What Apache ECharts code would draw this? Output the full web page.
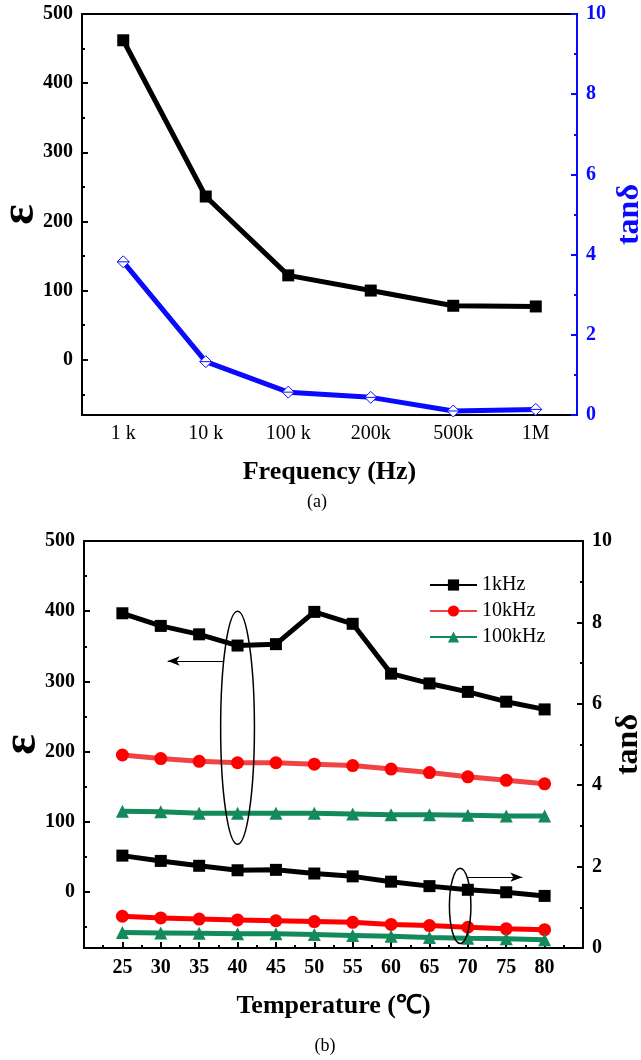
<!DOCTYPE html>
<html>
<head>
<meta charset="utf-8">
<script src="https://cdn.jsdelivr.net/npm/echarts@6/dist/echarts.min.js"></script>
<style>
  html, body { margin: 0; padding: 0; background: #fff; }
  #chart { width: 641px; height: 1060px; }
</style>
</head>
<body>
<div id="chart"></div>
<script>
// (a) frequency dependence
const freqLabels = ['1 k', '10 k', '100 k', '200k', '500k', '1M']
const epsFreq = [462, 236, 122, 100, 78, 77]
const tanFreq = [3.82, 1.33, 0.57, 0.44, 0.10, 0.14]

// (b) temperature dependence
const temps = [25, 30, 35, 40, 45, 50, 55, 60, 65, 70, 75, 80]
const eps1k = [397, 379, 367, 351, 353, 399, 382, 311, 297, 285, 271, 260]
const eps10k = [195, 190, 186, 184, 184, 182, 180, 175, 170, 164, 159, 154]
const eps100k = [115, 114, 112, 112, 112, 112, 111, 110, 110, 109, 108, 108]
const tan1k = [2.27, 2.14, 2.02, 1.91, 1.92, 1.83, 1.76, 1.63, 1.52, 1.43, 1.37, 1.28]
const tan10k = [0.78, 0.74, 0.71, 0.69, 0.67, 0.65, 0.63, 0.58, 0.55, 0.51, 0.47, 0.45]
const tan100k = [0.38, 0.37, 0.36, 0.35, 0.35, 0.33, 0.31, 0.29, 0.26, 0.24, 0.23, 0.20]
const legendNames = ['1kHz', '10kHz', '100kHz']

// tick labels
const epsTicks = [0, 100, 200, 300, 400, 500]
const epsMinorTicks = [-50, 50, 150, 250, 350, 450]

// annotations in data units: [x centre, x half-width, y top, y bottom]
const ovalEps = [40, 2.2, 400, 68]
const ovalTan = [69, 1.4, 1.96, 0.11]
const arrowEps = [[38.1, 329], [30.9, 329]]
const arrowTan = [[69.9, 1.74], [77.1, 1.74]]

const FONT = '"Liberation Serif", "Times New Roman", serif'
const BLUE = '#0a0aff'
const RED = '#f04444'
const GREEN = '#138a5c'

const chart = echarts.init(document.getElementById('chart'))

const labelStyle = (color, bold) => ({
  fontFamily: FONT, fontSize: 20, color, fontWeight: bold ? 'bold' : 'normal'
})

const nameStyle = (color, size) => ({
  fontFamily: FONT, fontSize: size, color, fontWeight: 'bold'
})

const leftAxis = (gridIndex) => ({
  gridIndex, type: 'value', min: -80, max: 500, position: 'left',
  name: 'ε', nameLocation: 'middle', nameGap: 37, nameRotate: 90, nameMoveOverlap: false,
  nameTextStyle: nameStyle('#000', 48),
  axisLine: { show: true, onZero: false, lineStyle: { color: '#000', width: 2 } },
  axisTick: { show: true, inside: true, length: 6, customValues: epsTicks, lineStyle: { width: 2 } },
  axisLabel: { ...labelStyle('#000', true), customValues: epsTicks, margin: 9 },
  splitLine: { show: false }
})

const leftMinor = (gridIndex) => ({
  gridIndex, type: 'value', min: -80, max: 500, position: 'left',
  axisLine: { show: false },
  axisTick: { show: true, inside: true, length: 3, customValues: epsMinorTicks, lineStyle: { color: '#000', width: 2 } },
  axisLabel: { show: false },
  splitLine: { show: false }
})

const rightAxis = (gridIndex, color, gap) => ({
  gridIndex, type: 'value', min: 0, max: 10, interval: 2, position: 'right',
  name: 'tanδ', nameLocation: 'middle', nameGap: gap, nameRotate: 90, nameMoveOverlap: false,
  nameTextStyle: nameStyle(color, 32),
  axisLine: { show: true, onZero: false, lineStyle: { color, width: 2 } },
  axisTick: { show: true, inside: true, length: 6, lineStyle: { color, width: 2 } },
  minorTick: { show: true, splitNumber: 2, length: 3, lineStyle: { color, width: 2 } },
  axisLabel: { ...labelStyle(color, true), margin: 9 },
  splitLine: { show: false }, minorSplitLine: { show: false }
})

const pairs = (ys) => temps.map((t, i) => [t, ys[i]])

const tempSeries = (name, ys, yAxisIndex, symbol, size, color, lineColor) => ({
  name, type: 'line', xAxisIndex: 2, yAxisIndex, data: pairs(ys),
  symbol, symbolSize: size,
  lineStyle: { color: lineColor || color, width: 5 },
  itemStyle: { color }
})

const arrowLine = (pts) => ({
  silent: true,
  symbol: ['none', 'arrow'],
  symbolSize: [7, 12],
  label: { show: false },
  lineStyle: { color: '#000', width: 1.2, type: 'solid' },
  emphasis: { disabled: true },
  data: [[{ coord: pts[0] }, { coord: pts[1] }]]
})

const s1k = tempSeries('1kHz', eps1k, 3, 'rect', 12, '#000')
s1k.markLine = arrowLine(arrowEps)
const t1k = tempSeries('1kHz', tan1k, 4, 'rect', 12, '#000')
t1k.markLine = arrowLine(arrowTan)

chart.setOption({
  animation: false,
  grid: [
    { left: 82, top: 14, width: 495, height: 401, outerBoundsMode: 'none' },
    { left: 84, top: 541, width: 499, height: 407, outerBoundsMode: 'none' }
  ],
  legend: {
    data: legendNames,
    orient: 'vertical',
    left: 424, top: 570,
    itemWidth: 47, itemHeight: 14, itemGap: 6,
    textStyle: { fontFamily: FONT, fontSize: 20, color: '#000' },
    selectedMode: false
  },
  xAxis: [
    {
      gridIndex: 0, type: 'category', data: freqLabels, position: 'bottom',
      name: 'Frequency (Hz)', nameLocation: 'middle', nameGap: 44, nameMoveOverlap: false,
      nameTextStyle: nameStyle('#000', 26),
      axisLine: { onZero: false, lineStyle: { color: '#000', width: 2 } },
      axisTick: { inside: true, alignWithLabel: true, length: 6, lineStyle: { width: 2 } },
      axisLabel: { ...labelStyle('#000', false), margin: 9 }
    },
    {
      gridIndex: 0, type: 'category', data: freqLabels, position: 'top',
      axisLine: { onZero: false, lineStyle: { color: '#000', width: 2 } },
      axisTick: { show: false }, axisLabel: { show: false }
    },
    {
      gridIndex: 1, type: 'value', min: 20, max: 85, interval: 5, position: 'bottom',
      name: 'Temperature (℃)', nameLocation: 'middle', nameGap: 45, nameMoveOverlap: false,
      nameTextStyle: nameStyle('#000', 26),
      axisLine: { onZero: false, lineStyle: { color: '#000', width: 2 } },
      axisTick: { inside: true, length: 6, lineStyle: { width: 2 } },
      minorTick: { show: true, splitNumber: 2, length: 3, lineStyle: { color: '#000', width: 2 } },
      axisLabel: {
        ...labelStyle('#000', true), margin: 10,
        formatter: (v) => (v === 20 || v === 85 ? '' : String(v))
      },
      splitLine: { show: false }, minorSplitLine: { show: false }
    },
    {
      gridIndex: 1, type: 'value', min: 20, max: 85, position: 'top',
      axisLine: { onZero: false, lineStyle: { color: '#000', width: 2 } },
      axisTick: { show: false }, axisLabel: { show: false }, splitLine: { show: false }
    }
  ],
  yAxis: [
    leftAxis(0),
    rightAxis(0, BLUE, 37),
    leftMinor(0),
    leftAxis(1),
    rightAxis(1, '#000', 30),
    leftMinor(1)
  ],
  series: [
    {
      type: 'line', xAxisIndex: 0, yAxisIndex: 0, data: epsFreq,
      symbol: 'rect', symbolSize: 12,
      lineStyle: { color: '#000', width: 5 },
      itemStyle: { color: '#000' }
    },
    {
      type: 'line', xAxisIndex: 0, yAxisIndex: 1, data: tanFreq,
      symbol: 'path://M10,0 L20,10 L10,20 L0,10 Z M0,10 L20,10', symbolSize: 12,
      lineStyle: { color: BLUE, width: 5 },
      itemStyle: { color: '#fff', borderColor: BLUE, borderWidth: 1 }
    },
    s1k,
    tempSeries('10kHz', eps10k, 3, 'circle', 13, '#ff0000', RED),
    tempSeries('100kHz', eps100k, 3, 'triangle', 13, GREEN),
    t1k,
    tempSeries('10kHz', tan10k, 4, 'circle', 13, '#ff0000'),
    tempSeries('100kHz', tan100k, 4, 'triangle', 13, GREEN)
  ]
})

const oval = (o, yAxisIndex) => {
  const [cx, top] = chart.convertToPixel({ xAxisIndex: 2, yAxisIndex }, [o[0], o[2]])
  const [edge, bottom] = chart.convertToPixel({ xAxisIndex: 2, yAxisIndex }, [o[0] + o[1], o[3]])
  return {
    type: 'ellipse', silent: true, z: 10,
    shape: { cx, cy: (top + bottom) / 2, rx: edge - cx, ry: (bottom - top) / 2 },
    style: { fill: 'none', stroke: '#000', lineWidth: 1.5 }
  }
}

chart.setOption({
  graphic: [
    oval(ovalEps, 3),
    oval(ovalTan, 4),
    {
      type: 'text', x: 317, y: 502, silent: true,
      style: { text: '(a)', font: '18px ' + FONT, fill: '#000', align: 'center', verticalAlign: 'middle' }
    },
    {
      type: 'text', x: 325, y: 1046, silent: true,
      style: { text: '(b)', font: '18px ' + FONT, fill: '#000', align: 'center', verticalAlign: 'middle' }
    }
  ]
})
</script>
</body>
</html>
